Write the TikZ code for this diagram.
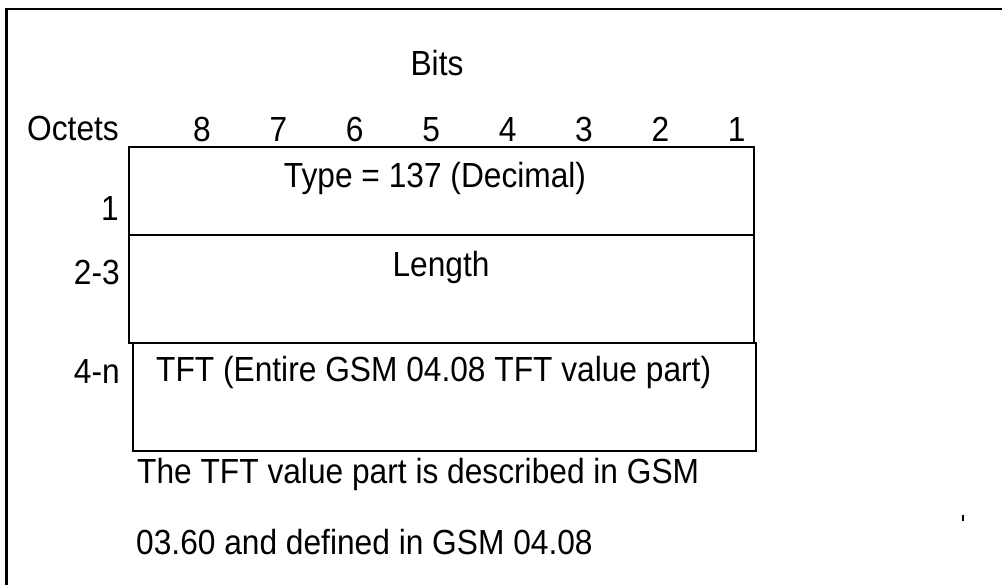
\documentclass[tikz,border=0pt]{standalone}
\usepackage{fontspec}
\setmainfont{Liberation Sans}
\newcommand{\tall}[1]{\scalebox{1}[1.1]{#1}}
\begin{document}
\begin{tikzpicture}[x=1pt,y=-1pt,
  lbl/.style={inner sep=0pt, font=\fontsize{31.7}{36}\selectfont},
  field/.style={draw, line width=1.8pt, inner sep=0pt},
  frame/.style={line width=2.8pt}]
\useasboundingbox (0,0) rectangle (1002,585);
% outer frame (left and top edges only)
\coordinate (fbl) at (6.5,585);
\coordinate (ftl) at (6.5,9);
\coordinate (ftr) at (1002,9);
\draw[frame] (fbl) -- (ftl) -- (ftr);
% header
\node[lbl] (bits) at (437,63) {\tall{Bits}};
\node[lbl, anchor=east] (octets) at (119,128) {\tall{Octets}};
\foreach \b [count=\i from 0] in {8,7,6,5,4,3,2,1}
  \node[lbl, anchor=base] (b\b) at ({202+\i*76.4},142) {\tall{\b}};
% fields
\draw[field] (129,147) rectangle (754,235);
\node[lbl] (type) at (435,178) {\tall{Type = 137 (Decimal)}};
\draw[field] (129,235) rectangle (754,343);
\node[lbl] (len) at (441,267) {\tall{Length}};
\draw[field] (133,343) rectangle (756,451);
\node[lbl, anchor=west] (tft) at (156,372) {\tall{TFT (Entire GSM 04.08 TFT value part)}};
% octet labels
\node[lbl, anchor=east] (o1) at (119,209) {\tall{1}};
\node[lbl, anchor=east] (o23) at (120,272) {\tall{2-3}};
\node[lbl, anchor=east] (o4n) at (120,372) {\tall{4-n}};
% note
\node[lbl, anchor=west] (n1) at (137,474) {\tall{The TFT value part is described in GSM}};
\node[lbl, anchor=west] (n2) at (136,542) {\tall{03.60 and defined in GSM 04.08}};
% stray tick
\coordinate (tk1) at (963,515);
\coordinate (tk2) at (963,521);
\draw[line width=1.5pt] (tk1) -- (tk2);
\end{tikzpicture}
\end{document}
